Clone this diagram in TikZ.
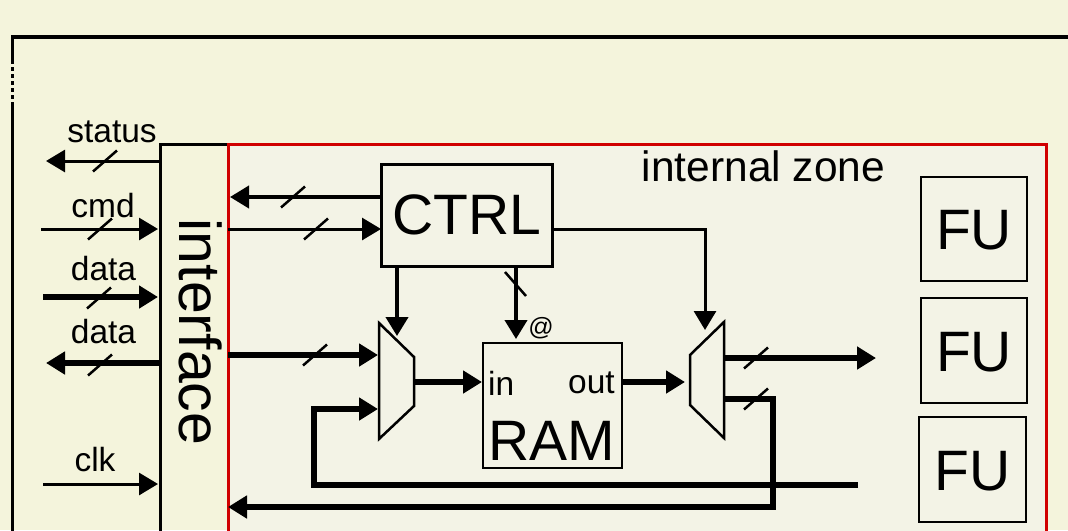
\documentclass[tikz,border=0pt]{standalone}
\usepackage{fontspec}
\setmainfont{Liberation Sans}
\usetikzlibrary{arrows.meta}
\definecolor{outerbg}{HTML}{F4F4DC}
\definecolor{innerbg}{HTML}{F3F3E6}
\definecolor{zonered}{HTML}{D00000}
\tikzset{
    wirethin/.style={line width=3pt, -{Triangle[length=19pt, width=22pt]}},
    wiremid/.style={line width=4pt, -{Triangle[length=19pt, width=22pt]}},
    wirebig/.style={line width=6.5pt, -{Triangle[length=19pt, width=22pt]}},
    slashline/.style={line width=2.5pt},
    box/.style={draw, line width=2.5pt, inner sep=0pt},
    futxt/.style={inner sep=0pt, font=\fontsize{57}{68}\selectfont},
    txt/.style={inner sep=0pt, font=\fontsize{33.5}{40}\selectfont}
}

\begin{document}
\begin{tikzpicture}[x=1pt, y=-1pt]
    \useasboundingbox[fill=outerbg] (0,0) rectangle (1068,530);

    % Frame
    \draw[line width=3.5pt] (12.5,60) -- (12.5,37) -- (1075,37);
    \draw[line width=3.5pt, dash pattern=on 4pt off 3pt] (12.5,60) -- (12.5,105);
    \draw[line width=3.5pt] (12.5,105) -- (12.5,540);

    % Zones
    \fill[innerbg] (228,144) rectangle (1046,540);
    \draw[line width=3pt] (228,144) -- (160,144) -- (160,540);
    \draw[zonered, line width=3pt] (228,540) -- (228,144) -- (1046,144) -- (1046,540);

    % Nodes
    \node[txt, font=\fontsize{42.5}{50}\selectfont] (zone) at (763.5,166) {internal zone};
    \node[txt, font=\fontsize{59}{70}\selectfont, rotate=-90] (iface) at (201,332) {interface};
    \node[box, line width=3pt, minimum width=171pt, minimum height=102pt, font=\fontsize{57}{68}\selectfont] (ctrl) at (466.5,215) {CTRL};
    \node[box, minimum width=139pt, minimum height=125pt] (ram) at (552.5,405.5) {};
    \node[txt, font=\fontsize{57}{68}\selectfont] (ramlbl) at (552,441) {RAM};
    \node[txt, anchor=west] (in) at (488,383) {in};
    \node[txt, anchor=east] (out) at (615,383) {out};
    \node[txt, font=\fontsize{25}{30}\selectfont] (at) at (541,328) {@};
    \node[box, minimum width=106pt, minimum height=104pt] (fu1) at (974,229) {};
    \node[box, minimum width=106pt, minimum height=105pt] (fu2) at (974,350.5) {};
    \node[box, minimum width=107pt, minimum height=105pt] (fu3) at (972.5,469.5) {};
    \node[futxt] (fua) at (974,230.5) {FU};
    \node[futxt] (fub) at (974,352) {FU};
    \node[futxt] (fuc) at (972.5,471) {FU};
    \node[txt] (status) at (112,132) {status};
    \node[txt] (cmd) at (103,206) {cmd};
    \node[txt] (datain) at (103.5,269) {data};
    \node[txt] (dataout) at (103.5,332) {data};
    \node[txt] (clk) at (95,460) {clk};

    % Muxes
    \draw[line width=2.5pt, line join=miter] (379,323) -- (414,357) -- (414,406) -- (379,439) -- cycle;
    \draw[line width=2.5pt, line join=miter] (724,322) -- (690,355) -- (690,405) -- (724,438) -- cycle;

    % Free ends
    \coordinate (statusa) at (160,161);
    \coordinate (statusb) at (46,161);
    \coordinate (cmda) at (41,229);
    \coordinate (cmdb) at (158,229);
    \coordinate (dinb) at (43,297);
    \coordinate (dinc) at (158,297);
    \coordinate (douta) at (160,363);
    \coordinate (doutb) at (46,363);
    \coordinate (clka) at (43,484);
    \coordinate (clkb) at (158,484);
    \coordinate (ctrlout) at (381,197);
    \coordinate (ctrlret) at (230,197);
    \coordinate (ctrlina) at (228,229);
    \coordinate (ctrlinb) at (381,229);
    \coordinate (ctrlr) at (552,229);
    \coordinate (muxtwotop) at (705,330);
    \coordinate (muxonetop) at (397,336);
    \coordinate (ctrlbota) at (397,266);
    \coordinate (ctrlbotb) at (516,266);
    \coordinate (ramtop) at (516,339);
    \coordinate (ifacemux) at (228,355);
    \coordinate (muxonea) at (378,355);
    \coordinate (muxoneb) at (378,409);
    \coordinate (fbstart) at (858,485);
    \coordinate (muxoneout) at (415,382);
    \coordinate (ramin) at (482,382);
    \coordinate (ramout) at (622,382);
    \coordinate (muxtwoin) at (685,382);
    \coordinate (muxtwoa) at (725,358);
    \coordinate (fuend) at (876,358);
    \coordinate (muxtwob) at (725,399);
    \coordinate (retend) at (228,507);

    % Lines
    \draw[wirethin] (statusa) -- (statusb);
    \draw[wirethin] (cmda) -- (cmdb);
    \draw[wirebig] (dinb) -- (dinc);
    \draw[wirebig] (douta) -- (doutb);
    \draw[wirethin] (clka) -- (clkb);
    \draw[wiremid] (ctrlout) -- (ctrlret);
    \draw[wirethin] (ctrlina) -- (ctrlinb);
    \draw[wirethin] (ctrlr) -| (muxtwotop);
    \draw[wiremid] (ctrlbota) -- (muxonetop);
    \draw[wiremid] (ctrlbotb) -- (ramtop);
    \draw[wirebig] (ifacemux) -- (muxonea);
    \draw[wirebig, line join=miter] (fbstart) -| (314,409) -- (muxoneb);
    \draw[wirebig] (muxoneout) -- (ramin);
    \draw[wirebig] (ramout) -- (muxtwoin);
    \draw[wirebig] (muxtwoa) -- (fuend);
    \draw[wirebig, line join=miter] (muxtwob) -| (773,507) -- (retend);

    % Slashes
    \foreach \sx/\sy in {105/161, 100/229, 99/298, 100/365, 293/197, 316/229, 315/355, 756/358, 756/399}
        \draw[slashline] (\sx-12,\sy+10.5) -- (\sx+12,\sy-10.5);
    \draw[slashline] (505,272) -- (526,296);
\end{tikzpicture}
\end{document}
